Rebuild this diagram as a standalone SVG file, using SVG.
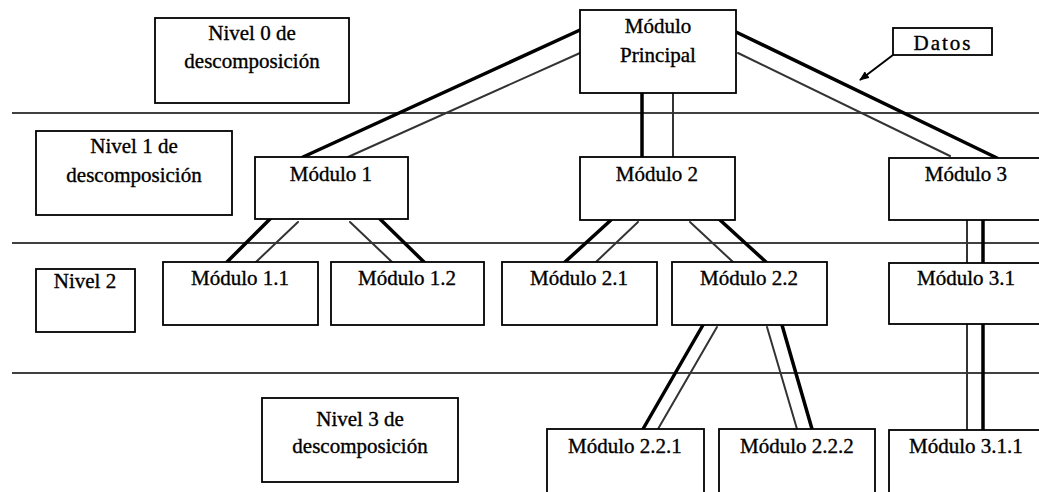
<svg xmlns="http://www.w3.org/2000/svg" width="1039" height="492" viewBox="0 0 1039 492">
<style>
.box{fill:#fff;stroke:#000;stroke-width:1.8}
.t{font-family:"Liberation Serif","Times New Roman",serif;font-size:21px;fill:#000;stroke:#000;stroke-width:0.35;text-anchor:middle}
.sep{stroke:#000;stroke-width:1.5}
.thick{stroke:#000;stroke-width:3.5;stroke-linecap:round}
.thin{stroke:#333;stroke-width:2;stroke-linecap:round}
</style>
<defs>
<marker id="arr" markerWidth="10" markerHeight="8" refX="9" refY="4" orient="auto" markerUnits="userSpaceOnUse">
<path d="M0,0 L10,4 L0,8 Z" fill="#000"/>
</marker>
</defs>
<rect width="1039" height="492" fill="#fff"/>
<g id="separators">
<line class="sep" x1="12" y1="113" x2="1039" y2="113"/>
<line class="sep" x1="12" y1="243" x2="1039" y2="243"/>
<line class="sep" x1="12" y1="373" x2="1039" y2="373"/>
</g>
<g id="connectors">
<line class="thick" x1="580" y1="30" x2="303" y2="157"/>
<line class="thin" x1="580" y1="53" x2="348" y2="157"/>
<line class="thick" x1="642" y1="93" x2="642" y2="157"/>
<line class="thin" x1="673" y1="93" x2="673" y2="157"/>
<line class="thick" x1="736" y1="32" x2="997" y2="158"/>
<line class="thin" x1="738" y1="53" x2="950" y2="156"/>
<line class="thick" x1="270" y1="219" x2="227" y2="262"/>
<line class="thin" x1="298" y1="222" x2="256" y2="262"/>
<line class="thin" x1="350" y1="222" x2="392" y2="262"/>
<line class="thick" x1="380" y1="219" x2="424" y2="262"/>
<line class="thick" x1="611" y1="220" x2="565" y2="262"/>
<line class="thin" x1="638" y1="222" x2="596" y2="262"/>
<line class="thin" x1="690" y1="222" x2="733" y2="262"/>
<line class="thick" x1="720" y1="220" x2="766" y2="262"/>
<line class="thin" x1="967" y1="220" x2="967" y2="263"/>
<line class="thick" x1="983" y1="220" x2="983" y2="263"/>
<line class="thick" x1="703" y1="325" x2="643" y2="429"/>
<line class="thin" x1="717" y1="327" x2="658" y2="429"/>
<line class="thin" x1="767" y1="327" x2="797" y2="429"/>
<line class="thick" x1="782" y1="325" x2="812" y2="429"/>
<line class="thin" x1="967" y1="324" x2="967" y2="430"/>
<line class="thick" x1="983" y1="324" x2="983" y2="430"/>
<line stroke="#000" stroke-width="2" x1="893" y1="55" x2="860" y2="80" marker-end="url(#arr)"/>
</g>
<g id="nivel0"><rect class="box" x="155" y="18" width="194" height="85"/><text class="t" x="252" y="40">Nivel 0 de</text><text class="t" x="252" y="68">descomposición</text></g>
<g id="principal"><rect class="box" x="580" y="10" width="156" height="83"/><text class="t" x="658" y="33">Módulo</text><text class="t" x="658" y="62">Principal</text></g>
<g id="datos"><rect class="box" x="893" y="28" width="99" height="27"/><text class="t" x="943" y="50" letter-spacing="2">Datos</text></g>
<g id="nivel1"><rect class="box" x="36" y="131" width="196" height="84"/><text class="t" x="134" y="153">Nivel 1 de</text><text class="t" x="134" y="182">descomposición</text></g>
<g id="m1"><rect class="box" x="255" y="157" width="153" height="62"/><text class="t" x="331" y="181">Módulo 1</text></g>
<g id="m2"><rect class="box" x="580" y="157" width="155" height="63"/><text class="t" x="657" y="181">Módulo 2</text></g>
<g id="m3"><rect class="box" x="889" y="158" width="154" height="62"/><text class="t" x="966" y="181">Módulo 3</text></g>
<g id="nivel2"><rect class="box" x="36" y="269" width="99" height="63"/><text class="t" x="85" y="288">Nivel 2</text></g>
<g id="m11"><rect class="box" x="163" y="262" width="155" height="63"/><text class="t" x="240" y="285">Módulo 1.1</text></g>
<g id="m12"><rect class="box" x="331" y="262" width="153" height="63"/><text class="t" x="407" y="285">Módulo 1.2</text></g>
<g id="m21"><rect class="box" x="502" y="262" width="155" height="63"/><text class="t" x="579" y="285">Módulo 2.1</text></g>
<g id="m22"><rect class="box" x="672" y="262" width="155" height="63"/><text class="t" x="749" y="285">Módulo 2.2</text></g>
<g id="m31"><rect class="box" x="889" y="263" width="154" height="61"/><text class="t" x="966" y="285">Módulo 3.1</text></g>
<g id="nivel3"><rect class="box" x="262" y="398" width="196" height="84"/><text class="t" x="360" y="426">Nivel 3 de</text><text class="t" x="360" y="453">descomposición</text></g>
<g id="m221"><rect class="box" x="547" y="429" width="157" height="80"/><text class="t" x="625" y="453">Módulo 2.2.1</text></g>
<g id="m222"><rect class="box" x="719" y="429" width="156" height="80"/><text class="t" x="797" y="453">Módulo 2.2.2</text></g>
<g id="m311"><rect class="box" x="889" y="430" width="154" height="80"/><text class="t" x="966" y="453">Módulo 3.1.1</text></g>
</svg>
